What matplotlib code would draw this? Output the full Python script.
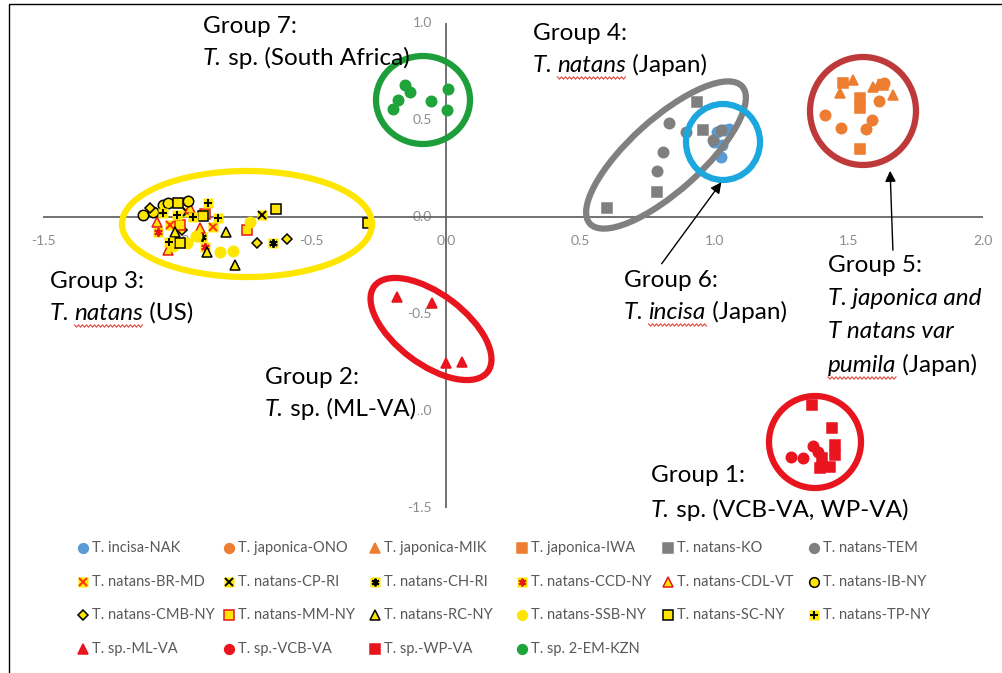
import numpy as np
import matplotlib.pyplot as plt
from matplotlib.patches import Ellipse, Rectangle

plt.rcParams['font.family'] = ['Lato', 'DejaVu Sans']

W, H = 1003, 673

# PC1 / PC2 scores for each population
nak_x = [1.009, 1.035, 1.054, 1.028, 1.024, 0.998]
nak_y = [0.438, 0.448, 0.454, 0.371, 0.309, 0.387]
ono_x = [1.411, 1.471, 1.564, 1.586, 1.612, 1.631]
ono_y = [0.526, 0.459, 0.454, 0.500, 0.598, 0.691]
mik_x = [1.515, 1.467, 1.590, 1.664, 1.612]
mik_y = [0.706, 0.639, 0.670, 0.629, 0.686]
iwa_x = [1.478, 1.541, 1.541, 1.541, 1.627]
iwa_y = [0.691, 0.613, 0.562, 0.351, 0.680]
ko_x = [0.934, 0.957, 0.786, 0.599]
ko_y = [0.593, 0.448, 0.129, 0.046]
tem_x = [0.830, 0.894, 0.808, 0.786, 1.024, 0.994]
tem_y = [0.485, 0.438, 0.335, 0.237, 0.448, 0.397]
brmd_x = [-0.867, -1.027]
brmd_y = [-0.052, -0.041]
cpri_x = [-0.685, -0.964]
cpri_y = [0.010, 0.026]
chri_x = [-0.908, -0.644]
chri_y = [-0.103, -0.134]
ccd_x = [-0.897, -1.072]
ccd_y = [-0.155, -0.077]
cdl_x = [-1.076, -0.916, -1.035, -0.953]
cdl_y = [-0.026, -0.057, -0.170, 0.046]
ib_x = [-1.128, -1.054, -1.035, -0.961, -1.091]
ib_y = [0.010, 0.062, 0.072, 0.082, 0.026]
cmb_x = [-0.983, -0.704, -0.592, -1.102]
cmb_y = [-0.067, -0.134, -0.113, 0.046]
mm_x = [-0.741, -0.897, -0.990]
mm_y = [-0.067, 0.015, -0.041]
rc_x = [-0.819, -0.890, -0.786, -1.009]
rc_y = [-0.077, -0.180, -0.247, -0.077]
ssb_x = [-0.841, -0.793, -0.964, -0.730, -0.931, -1.016]
ssb_y = [-0.180, -0.175, -0.134, -0.026, -0.098, -0.149]
sc_x = [-0.998, -0.905, -0.990, -0.633, -0.290]
sc_y = [0.072, 0.005, -0.134, 0.041, -0.031]
tp_x = [-0.886, -0.942, -1.001, -1.054, -0.849, -1.031]
tp_y = [0.072, 0.0, 0.010, 0.021, -0.005, -0.129]
ml_x = [-0.182, -0.052, 0.0, 0.060]
ml_y = [-0.412, -0.443, -0.753, -0.747]
vcb_x = [1.284, 1.329, 1.366, 1.385]
vcb_y = [-1.237, -1.242, -1.180, -1.211]
wp_x = [1.363, 1.437, 1.448, 1.400, 1.430, 1.392, 1.448]
wp_y = [-0.969, -1.088, -1.175, -1.242, -1.289, -1.294, -1.227]
em_x = [-0.153, -0.134, -0.179, -0.197, -0.056, 0.007, 0.004]
em_y = [0.680, 0.644, 0.603, 0.557, 0.598, 0.660, 0.552]

x_ticks = [-1.5, -1.0, -0.5, 0.0, 0.5, 1.0, 1.5, 2.0]
y_ticks = [1.0, 0.5, 0.0, -0.5, -1.0, -1.5]

BLUE = '#5B9BD5'
ORANGE = '#ED7D31'
GRAY = '#7F7F7F'
YEL = '#FFE600'
RED = '#E8141E'
GREEN = '#1FA33B'
ASTER = (6, 2, 0)

series = [
    ('T. incisa-NAK', nak_x, nak_y, dict(m='o', fc=BLUE, ec=BLUE)),
    ('T. japonica-ONO', ono_x, ono_y, dict(m='o', fc=ORANGE, ec=ORANGE)),
    ('T. japonica-MIK', mik_x, mik_y, dict(m='^', fc=ORANGE, ec=ORANGE)),
    ('T. japonica-IWA', iwa_x, iwa_y, dict(m='s', fc=ORANGE, ec=ORANGE)),
    ('T. natans-KO', ko_x, ko_y, dict(m='s', fc=GRAY, ec=GRAY)),
    ('T. natans-TEM', tem_x, tem_y, dict(m='o', fc=GRAY, ec=GRAY)),
    ('T. natans-BR-MD', brmd_x, brmd_y, dict(m='x', ec='#FF3300', bg=True)),
    ('T. natans-CP-RI', cpri_x, cpri_y, dict(m='x', ec='black', bg=True)),
    ('T. natans-CH-RI', chri_x, chri_y, dict(m=ASTER, ec='black', bg=True)),
    ('T. natans-CCD-NY', ccd_x, ccd_y, dict(m=ASTER, ec=RED, bg=True)),
    ('T. natans-CDL-VT', cdl_x, cdl_y, dict(m='^', fc=YEL, ec=RED)),
    ('T. natans-IB-NY', ib_x, ib_y, dict(m='o', fc=YEL, ec='black')),
    ('T. natans-CMB-NY', cmb_x, cmb_y, dict(m='D', fc=YEL, ec='black', ms=5)),
    ('T. natans-MM-NY', mm_x, mm_y, dict(m='s', fc=YEL, ec=RED)),
    ('T. natans-RC-NY', rc_x, rc_y, dict(m='^', fc=YEL, ec='black')),
    ('T. natans-SSB-NY', ssb_x, ssb_y, dict(m='o', fc=YEL, ec=YEL)),
    ('T. natans-SC-NY', sc_x, sc_y, dict(m='s', fc=YEL, ec='black')),
    ('T. natans-TP-NY', tp_x, tp_y, dict(m='+', ec='black', bg=True)),
    ('T. sp.-ML-VA', ml_x, ml_y, dict(m='^', fc=RED, ec=RED)),
    ('T. sp.-VCB-VA', vcb_x, vcb_y, dict(m='o', fc=RED, ec=RED)),
    ('T. sp.-WP-VA', wp_x, wp_y, dict(m='s', fc=RED, ec=RED)),
    ('T. sp. 2-EM-KZN', em_x, em_y, dict(m='o', fc=GREEN, ec=GREEN)),
]


def draw_marks(axis, xs, ys, st, size=7.5, z=3):
    if st.get('bg'):
        axis.plot(xs, ys, ls='none', marker='s', ms=size, mfc=YEL, mec='none',
                  zorder=z, clip_on=False)
        axis.plot(xs, ys, ls='none', marker=st['m'], ms=size - 1.5, mec=st['ec'],
                  mew=1.4, zorder=z, clip_on=False)
    else:
        axis.plot(xs, ys, ls='none', marker=st['m'], ms=st.get('ms', size),
                  mfc=st['fc'], mec=st['ec'], mew=1.1, zorder=z, clip_on=False)


fig = plt.figure(figsize=(W / 100, H / 100), dpi=100)

# plot area: x -1.5..2.0 -> px 43..983, y 1.0..-1.5 -> px 23..508
ax = fig.add_axes([43 / W, 1 - 508 / H, 940 / W, 485 / H])
ax.set_xlim(-1.5, 2.0)
ax.set_ylim(-1.5, 1.0)
ax.axis('off')
ax.axhline(0, color='#5a5a5a', lw=1.2, zorder=1)
ax.axvline(0, color='#5a5a5a', lw=1.2, zorder=1)
for t in x_ticks:
    ax.annotate(f'{t:.1f}', (t, 0), xytext=(0, -17.5), textcoords='offset points',
                ha='center', va='center', fontsize=10, color='#8c8c8c', zorder=0)
for t in y_ticks:
    ax.annotate(f'{t:.1f}', (0, t), xytext=(-10, 0), textcoords='offset points',
                ha='right', va='center', fontsize=10, color='#8c8c8c', zorder=0)

for name, xs, ys, st in series:
    draw_marks(ax, xs, ys, st)

# annotation layer in pixel units
ov = fig.add_axes([0, 0, 1, 1])
ov.set_xlim(0, W)
ov.set_ylim(H, 0)
ov.axis('off')
ov.patch.set_alpha(0)

ov.add_patch(Rectangle((9, 4), 1010, 700, fc='none', ec='black', lw=1))

rings = [
    ((247, 224), 250, 106, 0, YEL),
    ((423, 100), 94, 88, 0, '#1E9E3A'),
    ((666, 155), 205, 72, -42, '#808080'),
    ((723, 142), 74, 76, 0, '#1DA7DF'),
    ((863, 111), 106, 108, 0, '#BE3A3A'),
    ((431, 329), 142, 70, 37, RED),
    ((815, 442), 92, 92, 0, RED),
]
for c, w, h, ang, col in rings:
    ov.add_patch(Ellipse(c, w, h, angle=ang, fc='none', ec=col, lw=4.5))

ov.annotate('', xy=(723, 180), xytext=(660, 266),
            arrowprops=dict(arrowstyle='-|>', color='black', lw=1, mutation_scale=16))
ov.annotate('', xy=(890, 168), xytext=(893, 253),
            arrowprops=dict(arrowstyle='-|>', color='black', lw=1, mutation_scale=16))

renderer = fig.canvas.get_renderer()
inv = ov.transData.inverted()


def squiggle(x0, x1, y):
    xs = np.arange(x0, x1 + 1, 2.0)
    ys = y + np.where(np.arange(len(xs)) % 2 == 0, -1.2, 1.2)
    ov.plot(xs, ys, color='#E0463C', lw=0.8, zorder=5)


def rich_line(x, y, parts, size=17.5, boxed=False):
    for part in parts:
        s, it = part[0], part[1]
        t = ov.text(x, y, s, fontsize=size, style='italic' if it else 'normal',
                    va='baseline', ha='left', color='black', zorder=5)
        if boxed:
            t.set_bbox(dict(fc='white', ec='none', pad=1.5))
        bb = t.get_window_extent(renderer)
        x1 = inv.transform((bb.x1, bb.y0))[0]
        if len(part) > 2:
            squiggle(x, x1, y + 6)
        x = x1


labels = [
    (203, [33, 65], [[('Group 7:', 0)], [('T.', 1), (' sp. (South Africa)', 0)]]),
    (533, [40, 72], [[('Group 4:', 0)], [('T. ', 1), ('natans', 1, 'sq'), (' (Japan)', 0)]]),
    (50, [288, 320], [[('Group 3:', 0)], [('T. ', 1), ('natans', 1, 'sq'), (' (US)', 0)]]),
    (265, [384, 416], [[('Group 2:', 0)], [('T.', 1), (' sp. (ML-VA)', 0)]]),
    (624, [287, 319], [[('Group 6:', 0)], [('T. ', 1), ('incisa', 1, 'sq'), (' (Japan)', 0)]]),
    (828, [272, 305, 338, 372], [[('Group 5:', 0)], [('T. japonica and', 1)],
                                 [('T natans var', 1)], [('pumila', 1, 'sq'), (' (Japan)', 0)]]),
    (651, [482, 517], [[('Group 1:', 0)], [('T.', 1), (' sp. (VCB-VA, WP-VA)', 0)]]),
]
for x0, ys, lines in labels:
    for yb, parts in zip(ys, lines):
        # the ML-VA label box sits over the -1.0 tick label
        rich_line(x0, yb, parts, boxed=(x0 == 265))

# legend, six entries per row
for i, (name, xs, ys, st) in enumerate(series):
    lx = 83 + 146.2 * (i % 6)
    ly = 548 + 33.7 * (i // 6)
    draw_marks(ov, [lx], [ly], st, size=7, z=4)
    ov.text(lx + 9, ly, name, fontsize=10.5, color='#595959', va='center', ha='left')

fig.savefig('out.png', dpi=100)
